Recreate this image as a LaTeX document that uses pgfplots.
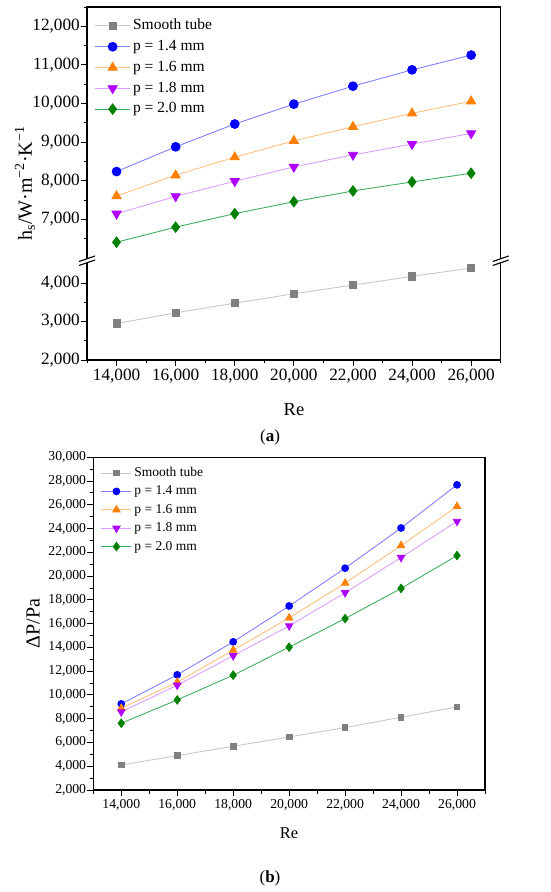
\documentclass[border=0pt]{standalone}
\usepackage{pgfplots}
\pgfplotsset{compat=1.18}
\usepackage{fontspec}
\setmainfont{Liberation Serif}
\definecolor{mgray}{HTML}{808080}
\definecolor{lgray}{HTML}{C8C8C8}
\definecolor{mblue}{HTML}{0000FF}
\definecolor{lblue}{HTML}{8080FF}
\definecolor{morange}{HTML}{FF8000}
\definecolor{lorange}{HTML}{FFC080}
\definecolor{mpurple}{HTML}{B000FF}
\definecolor{lpurple}{HTML}{DDA0FF}
\definecolor{mgreen}{HTML}{008000}
\definecolor{lgreen}{HTML}{40B060}
\pgfplotstableread{
Re smooth p14 p16 p18 p20
14000 2948 8240 7607 7147 6410
16000 3226 8880 8144 7598 6800
18000 3478 9470 8612 7988 7150
20000 3722 9985 9036 8360 7459
22000 3948 10450 9400 8672 7737
24000 4174 10873 9747 8950 7971
26000 4391 11255 10059 9227 8196
}\tabA
\pgfplotstableread{
Re smooth p14 p16 p18 p20
14000 4107 9247 8882 8573 7618
16000 4893 11691 11073 10820 9584
18000 5680 14470 13771 13296 11663
20000 6466 17486 16480 15810 14022
22000 7253 20670 19413 18603 16425
24000 8124 24050 22570 21564 18966
26000 8994 27682 25866 24609 21732
}\tabB
\pgfplotsset{
  every axis/.append style={
    scale only axis,
    xmin=13000, xmax=27000,
    tick align=outside,
    xtick pos=bottom, ytick pos=left,
    major tick length=6pt, minor tick length=3.5pt,
    every tick/.style={black, line width=0.9pt},
    scaled ticks=false,
    /pgf/number format/1000 sep={,},
    /pgf/number format/assume math mode=true,
  },
  legimgA/.style={legend image code/.code={
    \draw[##1, mark=none] (-17.5pt,0pt) -- (17.5pt,0pt);
    \draw[##1] plot coordinates {(0pt,0pt)};}},
  legimgB/.style={legend image code/.code={
    \draw[##1, mark=none] (-15pt,0pt) -- (15pt,0pt);
    \draw[##1] plot coordinates {(0pt,0pt)};}},
}
\begin{document}
\begin{tikzpicture}
\useasboundingbox (0pt,0pt) rectangle (550pt,892pt);
% ---------- panel (a), upper segment
\begin{axis}[at={(87pt,632pt)}, anchor=south west,
  width=413.7pt, height=253pt,
  ymin=5950, ymax=12500,
  axis line style={draw=none},
  xtick=\empty,
  ytick={7000,8000,9000,10000,11000,12000},
  minor ytick={6500,7500,8500,9500,10500,11500,12500},
  yticklabel style={font=\fontsize{17.2}{20}\selectfont, inner sep=1pt},
  legend style={at={(axis description cs:0,1)}, anchor=north west,
    xshift=7.5pt, yshift=-11pt, draw=none, fill=none, inner sep=0pt,
    font=\fontsize{15.5}{18}\selectfont,
    nodes={inner sep=0.5pt, text height=11pt, text depth=3.5pt},
    row sep=5.3pt,
    /tikz/every odd column/.append style={column sep=2pt}},
  legend cell align=left,
  legimgA,
  legend entries={Smooth tube, p = 1.4 mm, p = 1.6 mm, p = 1.8 mm, p = 2.0 mm},
]
\addlegendimage{color=lgray, line width=0.9pt, mark=square*, mark size=3.6pt, mark options={fill=mgray, draw=mgray}}
\addplot[color=lblue, line width=0.9pt, mark=*, mark size=4.4pt, mark options={fill=mblue, draw=mblue}] table[x=Re, y=p14] {\tabA};
\addplot[color=lorange, line width=0.9pt, mark=triangle*, mark size=5.2pt, mark options={fill=morange, draw=morange}] table[x=Re, y=p16] {\tabA};
\addplot[color=lpurple, line width=0.9pt, mark=triangle*, mark size=5.2pt, mark options={fill=mpurple, draw=mpurple, rotate=180}] table[x=Re, y=p18] {\tabA};
\addplot[color=lgreen, line width=0.9pt, mark=diamond*, mark size=5.2pt, mark options={fill=mgreen, draw=mgreen}] table[x=Re, y=p20] {\tabA};
\end{axis}
% ---------- panel (a), lower segment
\begin{axis}[at={(87pt,532pt)}, anchor=south west,
  width=413.7pt, height=100pt,
  ymin=2000, ymax=4600,
  axis line style={draw=none},
  xtick={14000,16000,...,26000},
  minor xtick={13000,15000,...,27000},
  ytick={2000,3000,4000},
  minor ytick={2500,3500,4500},
  xticklabel style={font=\fontsize{17.2}{20}\selectfont, inner sep=1pt, yshift=-2pt},
  yticklabel style={font=\fontsize{17.2}{20}\selectfont, inner sep=1pt},
]
\addplot[color=lgray, line width=0.9pt, mark=square*, mark size=3.6pt, mark options={fill=mgray, draw=mgray}] table[x=Re, y=smooth] {\tabA};
\end{axis}
% frame and break marks for (a)
\begin{scope}[x=1pt,y=1pt]
\draw[line width=1.3pt] (87,532) rectangle (500.7,885);
\foreach \xx in {87,500.7}{
  \fill[white] (\xx-8,630.5) -- (\xx+8,636) -- (\xx+8,632) -- (\xx-8,626.5) -- cycle;
  \draw[line width=1.1pt] (\xx-8,630.5) -- (\xx+8,636);
  \draw[line width=1.1pt] (\xx-8,626.5) -- (\xx+8,632);
}
\node[rotate=90, font=\fontsize{20}{22}\selectfont] at (25,708.5)
  {h\textsubscript{s}/W·m\textsuperscript{−2}·K\textsuperscript{−1}};
\node[font=\fontsize{18.5}{22}\selectfont] at (294,482) {Re};
\node[font=\fontsize{17}{20}\selectfont] at (270,455) {(\textbf{a})};
\end{scope}
% ---------- panel (b)
\begin{axis}[at={(93.3pt,102pt)}, anchor=south west,
  width=391.7pt, height=332.7pt,
  ymin=2000, ymax=30000,
  axis line style={line width=1.3pt},
  xtick={14000,16000,...,26000},
  minor xtick={13000,15000,...,27000},
  ytick={2000,4000,...,30000},
  minor ytick={3000,5000,...,29000},
  xticklabel style={font=\fontsize{13.7}{16}\selectfont, inner sep=1pt, yshift=-2pt},
  yticklabel style={font=\fontsize{13.7}{16}\selectfont, inner sep=1pt},
  legend style={at={(axis description cs:0,1)}, anchor=north west,
    xshift=7.5pt, yshift=-8.5pt, draw=none, fill=none, inner sep=0pt,
    font=\fontsize{13.5}{16}\selectfont,
    nodes={inner sep=0.5pt, text height=10pt, text depth=3pt},
    row sep=4.4pt,
    /tikz/every odd column/.append style={column sep=2pt}},
  legend cell align=left,
  legimgB,
  legend entries={Smooth tube, p = 1.4 mm, p = 1.6 mm, p = 1.8 mm, p = 2.0 mm},
]
\addplot[color=lgray, line width=0.9pt, mark=square*, mark size=2.8pt, mark options={fill=mgray, draw=mgray}] table[x=Re, y=smooth] {\tabB};
\addplot[color=lblue, line width=0.9pt, mark=*, mark size=3.4pt, mark options={fill=mblue, draw=mblue}] table[x=Re, y=p14] {\tabB};
\addplot[color=lorange, line width=0.9pt, mark=triangle*, mark size=4.2pt, mark options={fill=morange, draw=morange}] table[x=Re, y=p16] {\tabB};
\addplot[color=lpurple, line width=0.9pt, mark=triangle*, mark size=4.2pt, mark options={fill=mpurple, draw=mpurple, rotate=180}] table[x=Re, y=p18] {\tabB};
\addplot[color=lgreen, line width=0.9pt, mark=diamond*, mark size=4.2pt, mark options={fill=mgreen, draw=mgreen}] table[x=Re, y=p20] {\tabB};
\end{axis}
\begin{scope}[x=1pt,y=1pt]
\node[rotate=90, font=\fontsize{20}{22}\selectfont] at (33,268.4) {ΔP/Pa};
\node[font=\fontsize{16.5}{20}\selectfont] at (289,59) {Re};
\node[font=\fontsize{17}{20}\selectfont] at (270,14) {(\textbf{b})};
\end{scope}
\end{tikzpicture}
\end{document}
